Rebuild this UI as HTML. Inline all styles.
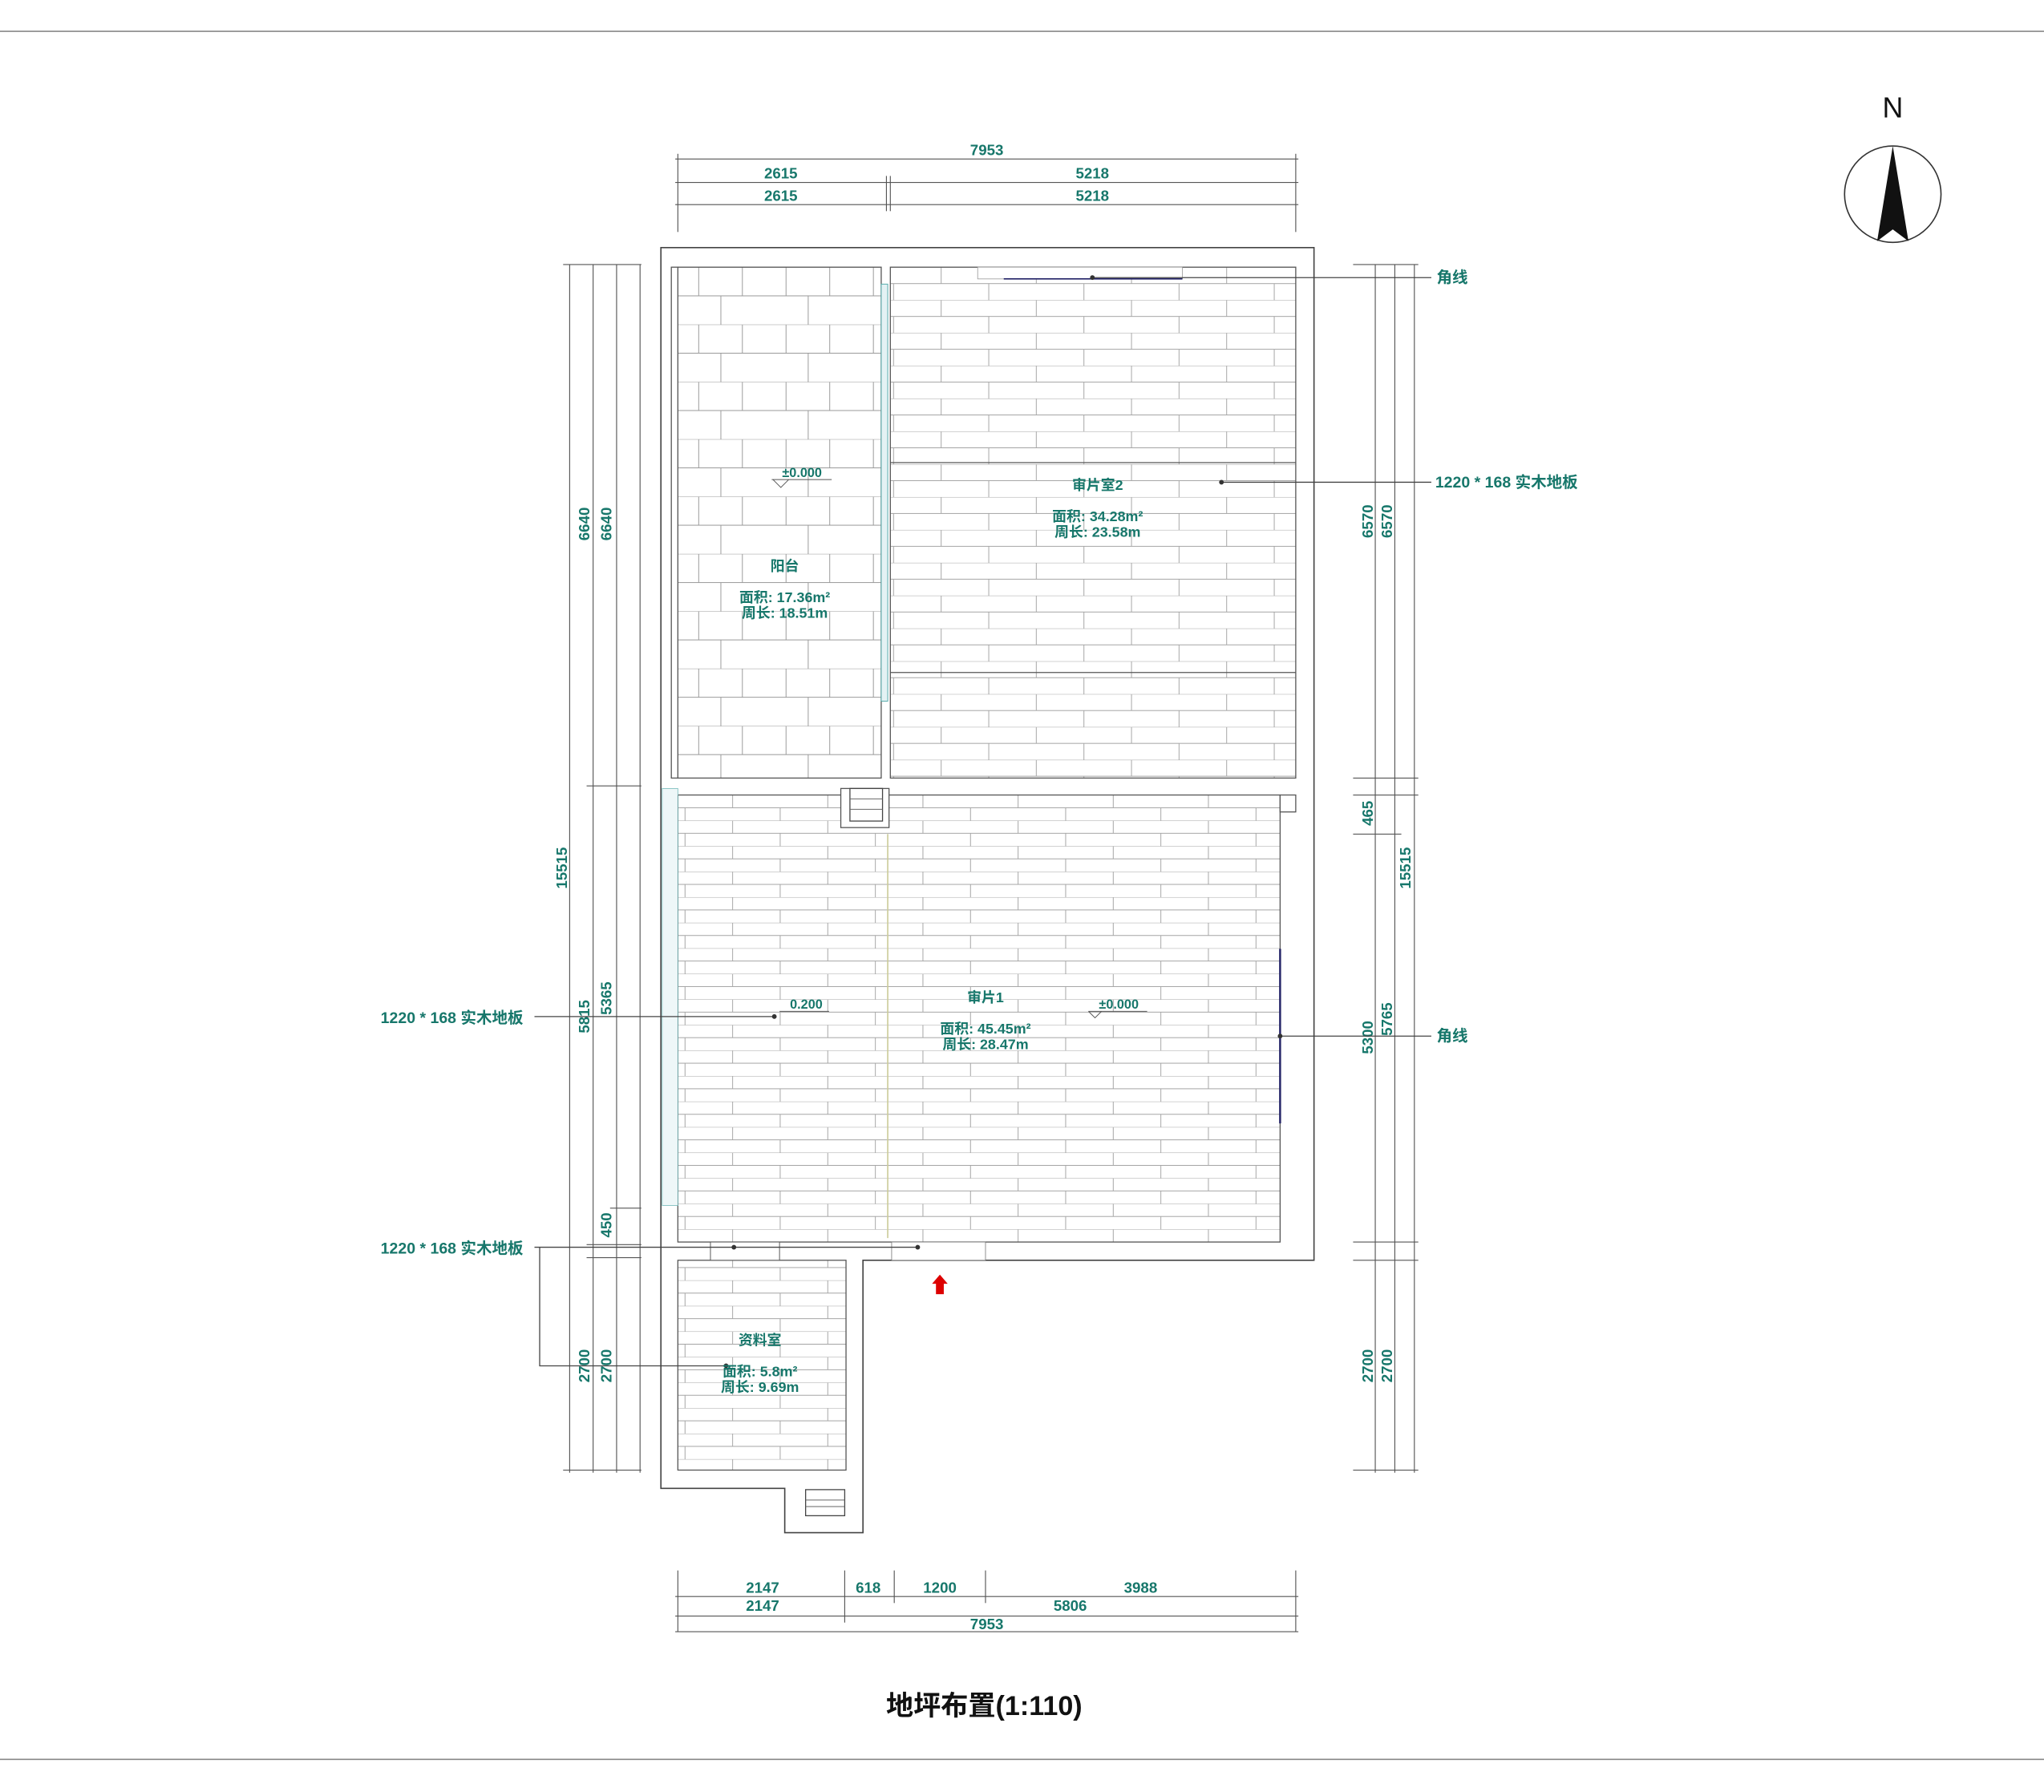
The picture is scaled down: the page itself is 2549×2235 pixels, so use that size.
<!DOCTYPE html>
<html><head><meta charset="utf-8"><style>
html,body{margin:0;padding:0;background:#fff;width:2549px;height:2235px;overflow:hidden}
svg{display:block}
text{font-family:"Liberation Sans","Noto Sans CJK SC",sans-serif;fill:#17776b}
</style></head><body>
<svg width="2549" height="2235" viewBox="0 0 1568 1375" preserveAspectRatio="none">
<defs>
<pattern id="pb" x="520" y="205" width="67" height="44" patternUnits="userSpaceOnUse">
<rect width="67" height="44" fill="#fff"/>
<path d="M0 0H67M0 22H67M16 0V22M49.5 0V22M33 22V44" stroke="#999" stroke-width="0.6" fill="none"/>
</pattern>
<pattern id="pw" x="683" y="205" width="73" height="25.2" patternUnits="userSpaceOnUse">
<rect width="73" height="25.2" fill="#fff"/>
<path d="M0 0H73M0 12.6H73M39 0V12.6M2.5 12.6V25.2" stroke="#a5a5a5" stroke-width="0.6" fill="none"/>
</pattern>
<pattern id="pw2" x="520" y="610" width="73" height="19.6" patternUnits="userSpaceOnUse">
<rect width="73" height="19.6" fill="#fff"/>
<path d="M0 0H73M0 9.8H73M42 0V9.8M5.5 9.8V19.6" stroke="#a5a5a5" stroke-width="0.6" fill="none"/>
</pattern>
</defs>
<rect width="1568" height="1375" fill="#fff"/>
<line x1="0" y1="24" x2="1568" y2="24" stroke="#888" stroke-width="1"/>
<line x1="0" y1="1350" x2="1568" y2="1350" stroke="#888" stroke-width="1"/>

<polygon points="507,190 1008,190 1008,967 662,967 662,1176 602,1176 602,1142 507,1142" fill="#fff" stroke="#444" stroke-width="1"/>
<rect x="520" y="205" width="156" height="392" fill="url(#pb)" stroke="#555" stroke-width="0.8"/>
<rect x="515" y="205" width="5" height="392" fill="#fff" stroke="#555" stroke-width="0.8"/>
<rect x="676" y="218" width="5" height="320" fill="#e4f2f4" stroke="#5aa" stroke-width="0.6"/>
<rect x="683" y="205" width="311" height="392" fill="url(#pw)" stroke="#555" stroke-width="0.8"/>
<line x1="683" y1="355" x2="994" y2="355" stroke="#555" stroke-width="0.8"/>
<line x1="683" y1="516" x2="994" y2="516" stroke="#555" stroke-width="0.8"/>
<rect x="750" y="205" width="157" height="9" fill="#fff" stroke="#999" stroke-width="0.5"/>
<line x1="770" y1="214" x2="907" y2="214" stroke="#226" stroke-width="1"/>
<rect x="520" y="610" width="462" height="343" fill="url(#pw2)" stroke="#555" stroke-width="0.8"/>
<rect x="508" y="605" width="12" height="320" fill="#eef7f8" stroke="#7bb" stroke-width="0.5"/>
<rect x="645" y="605" width="37" height="30" fill="#fff" stroke="#555" stroke-width="0.8"/>
<rect x="652" y="605" width="25" height="25" fill="#fff" stroke="#444" stroke-width="0.8"/>
<line x1="652" y1="613" x2="677" y2="613" stroke="#666" stroke-width="0.6"/><line x1="652" y1="621" x2="677" y2="621" stroke="#666" stroke-width="0.6"/>
<rect x="982" y="610" width="12" height="13" fill="#fff" stroke="#555" stroke-width="0.8"/>
<line x1="982" y1="728" x2="982" y2="862" stroke="#226" stroke-width="1.5"/>
<line x1="681" y1="640" x2="681" y2="950" stroke="#cc9" stroke-width="1"/>
<rect x="520" y="967" width="129" height="161" fill="url(#pw2)" stroke="#555" stroke-width="0.8"/>
<rect x="545" y="953" width="53" height="14" fill="#fff" stroke="#555" stroke-width="0.6"/>
<rect x="684" y="953" width="72" height="14" fill="#fff" stroke="#777" stroke-width="0.5"/>
<rect x="618" y="1143" width="30" height="20" fill="#fff" stroke="#444" stroke-width="0.8"/>
<line x1="618" y1="1151" x2="648" y2="1151" stroke="#666" stroke-width="0.6"/><line x1="618" y1="1156" x2="648" y2="1156" stroke="#666" stroke-width="0.6"/>

<polygon points="721,978 727,985 724,985 724,993 718,993 718,985 715,985" fill="#d00"/>

<g stroke="#555" stroke-width="0.7">
<line x1="518" y1="122" x2="996" y2="122"/><line x1="518" y1="140" x2="996" y2="140"/><line x1="518" y1="157" x2="996" y2="157"/>
<line x1="520" y1="118" x2="520" y2="178"/><line x1="994" y1="118" x2="994" y2="178"/><line x1="680" y1="135" x2="680" y2="162"/><line x1="683" y1="135" x2="683" y2="162"/>
</g>
<g font-size="11.5" text-anchor="middle" font-weight="bold">
<text x="757" y="119">7953</text><text x="599" y="137">2615</text><text x="838" y="137">5218</text>
<text x="599" y="154">2615</text><text x="838" y="154">5218</text>
</g>
<g stroke="#555" stroke-width="0.7">
<line x1="518" y1="1225" x2="996" y2="1225"/><line x1="518" y1="1240" x2="996" y2="1240"/>
<line x1="520" y1="1205" x2="520" y2="1252"/><line x1="994" y1="1205" x2="994" y2="1252"/>
<line x1="648" y1="1205" x2="648" y2="1245"/><line x1="686" y1="1205" x2="686" y2="1230"/><line x1="756" y1="1205" x2="756" y2="1230"/>
<line x1="518" y1="1252" x2="996" y2="1252"/>
</g>
<g font-size="11.5" text-anchor="middle" font-weight="bold">
<text x="585" y="1222">2147</text><text x="666" y="1222">618</text><text x="721" y="1222">1200</text><text x="875" y="1222">3988</text>
<text x="585" y="1236">2147</text><text x="821" y="1236">5806</text><text x="757" y="1250">7953</text>
</g>
<g stroke="#555" stroke-width="0.7">
<line x1="437" y1="203" x2="437" y2="1130"/><line x1="455" y1="203" x2="455" y2="1130"/><line x1="473" y1="203" x2="473" y2="1130"/><line x1="491" y1="203" x2="491" y2="1130"/>
<line x1="432" y1="203" x2="492" y2="203"/><line x1="432" y1="1128" x2="492" y2="1128"/>
<line x1="450" y1="603" x2="492" y2="603"/><line x1="468" y1="927" x2="492" y2="927"/>
<line x1="450" y1="955" x2="492" y2="955"/><line x1="450" y1="965" x2="492" y2="965"/>
</g>
<g font-size="11.5" text-anchor="middle" font-weight="bold">
<text transform="translate(452,402) rotate(-90)">6640</text><text transform="translate(469,402) rotate(-90)">6640</text>
<text transform="translate(435,666) rotate(-90)">15515</text>
<text transform="translate(452,780) rotate(-90)">5815</text><text transform="translate(469,766) rotate(-90)">5365</text>
<text transform="translate(469,940) rotate(-90)">450</text>
<text transform="translate(452,1048) rotate(-90)">2700</text><text transform="translate(469,1048) rotate(-90)">2700</text>
</g>
<g stroke="#555" stroke-width="0.7">
<line x1="1055" y1="203" x2="1055" y2="1130"/><line x1="1070" y1="203" x2="1070" y2="1130"/><line x1="1085" y1="203" x2="1085" y2="1130"/>
<line x1="1038" y1="203" x2="1088" y2="203"/><line x1="1038" y1="597" x2="1088" y2="597"/><line x1="1038" y1="610" x2="1088" y2="610"/>
<line x1="1038" y1="640" x2="1075" y2="640"/><line x1="1038" y1="953" x2="1088" y2="953"/><line x1="1038" y1="967" x2="1088" y2="967"/>
<line x1="1038" y1="1128" x2="1088" y2="1128"/>
</g>
<g font-size="11.5" text-anchor="middle" font-weight="bold">
<text transform="translate(1053,400) rotate(-90)">6570</text><text transform="translate(1068,400) rotate(-90)">6570</text>
<text transform="translate(1053,624) rotate(-90)">465</text><text transform="translate(1082,666) rotate(-90)">15515</text>
<text transform="translate(1053,796) rotate(-90)">5300</text><text transform="translate(1068,782) rotate(-90)">5765</text>
<text transform="translate(1053,1048) rotate(-90)">2700</text><text transform="translate(1068,1048) rotate(-90)">2700</text>
</g>
<g stroke="#444" stroke-width="0.8" fill="none">
<polyline points="838,213 1098,213"/><polyline points="937,370 1098,370"/>
<polyline points="982,795 1098,795"/><polyline points="410,780 594,780"/>
<polyline points="410,957 704,957"/><polyline points="414,957 414,1048 557,1048"/>
</g>
<g fill="#333"><circle cx="838" cy="213" r="1.8"/><circle cx="937" cy="370" r="1.8"/><circle cx="982" cy="795" r="1.8"/><circle cx="594" cy="780" r="1.8"/><circle cx="563" cy="957" r="1.8"/><circle cx="704" cy="957" r="1.8"/><circle cx="557" cy="1048" r="1.8"/></g>
<g font-size="12" font-weight="bold">
<text x="1102" y="217">角线</text><text x="1101" y="374">1220 * 168 实木地板</text>
<text x="1102" y="799">角线</text>
<text x="292" y="785">1220 * 168 实木地板</text><text x="292" y="962">1220 * 168 实木地板</text>
</g>
<g font-size="11" text-anchor="middle" font-weight="bold">
<text x="602" y="438">阳台</text><text x="602" y="462">面积: 17.36m²</text><text x="602" y="474">周长: 18.51m</text>
<text x="842" y="376">审片室2</text><text x="842" y="400">面积: 34.28m²</text><text x="842" y="412">周长: 23.58m</text>
<text x="756" y="769">审片1</text><text x="756" y="793">面积: 45.45m²</text><text x="756" y="805">周长: 28.47m</text>
<text x="583" y="1032">资料室</text><text x="583" y="1056">面积: 5.8m²</text><text x="583" y="1068">周长: 9.69m</text>
</g>
<g font-size="10" font-weight="bold">
<text x="600" y="366">±0.000</text><text x="606" y="774">0.200</text><text x="843" y="774">±0.000</text>
</g>
<g stroke="#555" stroke-width="0.6" fill="none">
<polyline points="592,368 638,368"/><polyline points="593,368 599,374 605,368"/>
<polyline points="598,776 636,776"/><polyline points="835,776 880,776"/><polyline points="835,776 840,781 845,776"/>
</g>
<circle cx="1452" cy="149" r="37" fill="none" stroke="#333" stroke-width="1"/>
<polygon points="1452,112 1464,185 1452,176 1440,185" fill="#111"/>
<text x="1452" y="90" font-size="22" text-anchor="middle" style="fill:#111">N</text>
<text x="755" y="1316" font-size="21" text-anchor="middle" font-weight="bold" style="fill:#111">地坪布置(1:110)</text>
</svg>
</body></html>
